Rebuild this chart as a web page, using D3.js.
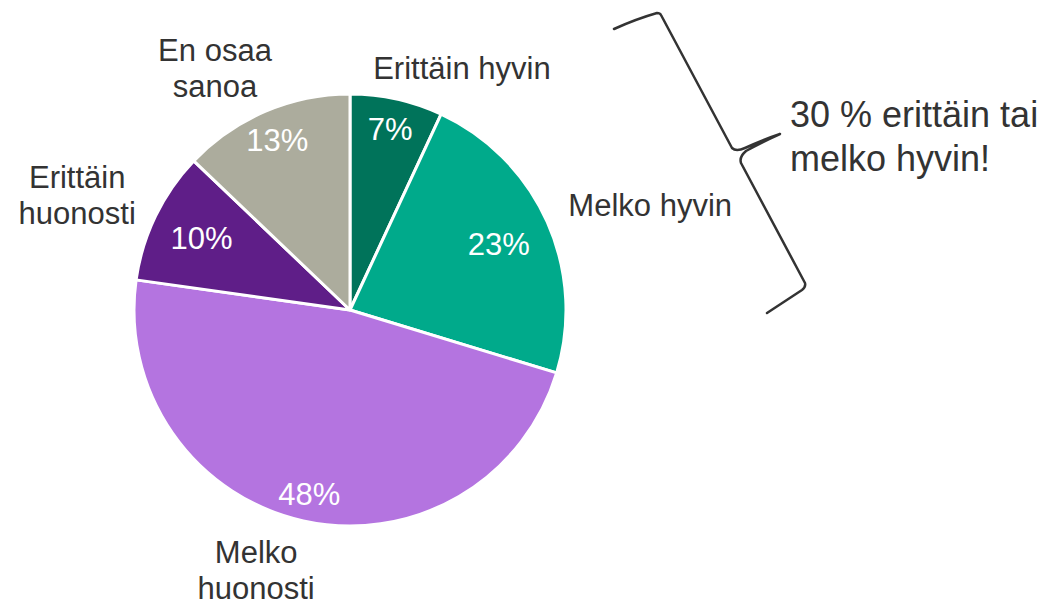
<!DOCTYPE html>
<html><head><meta charset="utf-8">
<script src="https://cdn.jsdelivr.net/npm/d3@7"></script>
<style>
html,body{margin:0;padding:0;background:#fff;}
svg{display:block;font-family:"Liberation Sans",Arial,sans-serif;}
</style></head>
<body>
<svg id="chart" width="1053" height="603"></svg>
<script>
// Data
const categories = ["Erittäin hyvin", "Melko hyvin", "Melko huonosti", "Erittäin huonosti", "En osaa sanoa"];
const values = [7, 23, 48, 10, 13];
const valueLabels = ["7%", "23%", "48%", "10%", "13%"];
const categoryLines = [["Erittäin hyvin"], ["Melko hyvin"], ["Melko", "huonosti"], ["Erittäin", "huonosti"], ["En osaa", "sanoa"]];
const colors = ["#00735a", "#00aa8b", "#b474e0", "#5f1e88", "#acac9d"];
const noteLines = ["30 % erittäin tai", "melko hyvin!"];

// Layout
const W = 1053, H = 603;
const cx = 350, cy = 310, R = 216;
const pctRadius = [186, 163, 188, 165, 185];
// outer label centres: [radius, angle offset (deg) from slice mid]
const outerLab = [[267, 12.3], [318, 4.8], [276, 7.4], [296, -3], [277, -6]];
const lineH = 36;

const svg = d3.select("#chart");
const g = svg.append("g").attr("transform", `translate(${cx},${cy})`);

const pie = d3.pie().sort(null).value(d => d);
const arcs = pie(values);
const arc = d3.arc().innerRadius(0).outerRadius(R);

g.selectAll("path.slice").data(arcs).join("path")
  .attr("class", "slice")
  .attr("d", arc)
  .attr("fill", (d, i) => colors[i])
  .attr("stroke", "#fff")
  .attr("stroke-width", 3)
  .attr("stroke-linejoin", "round");

function polar(r, a) { return [r * Math.sin(a), -r * Math.cos(a)]; }

// percent labels
g.selectAll("text.pct").data(arcs).join("text")
  .attr("class", "pct")
  .attr("transform", (d, i) => {
    const m = (d.startAngle + d.endAngle) / 2;
    const p = polar(pctRadius[i], m);
    return `translate(${p[0]},${p[1]})`;
  })
  .attr("text-anchor", "middle")
  .attr("dy", "0.36em")
  .attr("fill", "#fff")
  .attr("font-size", 31)
  .text((d, i) => valueLabels[i]);

// category labels
const cl = g.selectAll("text.cat").data(arcs).join("text")
  .attr("class", "cat")
  .attr("text-anchor", "middle")
  .attr("fill", "#333")
  .attr("font-size", 31)
  .attr("transform", (d, i) => {
    const m = (d.startAngle + d.endAngle) / 2 + outerLab[i][1] * Math.PI / 180;
    const p = polar(outerLab[i][0], m);
    return `translate(${p[0]},${p[1]})`;
  });
cl.each(function(d, i) {
  const lines = categoryLines[i];
  const n = lines.length;
  d3.select(this).selectAll("tspan").data(lines).join("tspan")
    .attr("x", 0)
    .attr("y", (l, j) => (j - (n - 1) / 2) * lineH)
    .attr("dy", "0.36em")
    .text(l => l);
});

// brace
svg.append("path")
  .attr("d", "M614,29 Q636,19 657,13 Q660,13 661,15 L732,148 Q736,152 745,148 Q762,140 780,134 Q762,142 746,151 Q739,157 741,163 L805,283 Q806,287 802,290 L767,313")
  .attr("fill", "none")
  .attr("stroke", "#333")
  .attr("stroke-width", 2.5)
  .attr("stroke-linejoin", "round")
  .attr("stroke-linecap", "round");

svg.append("text")
  .attr("x", 790).attr("y", 127)
  .attr("fill", "#333")
  .attr("font-size", 36)
  .selectAll("tspan").data(noteLines).join("tspan")
  .attr("x", 790)
  .attr("dy", (d, i) => i === 0 ? 0 : 44)
  .text(d => d);
</script>
</body></html>
